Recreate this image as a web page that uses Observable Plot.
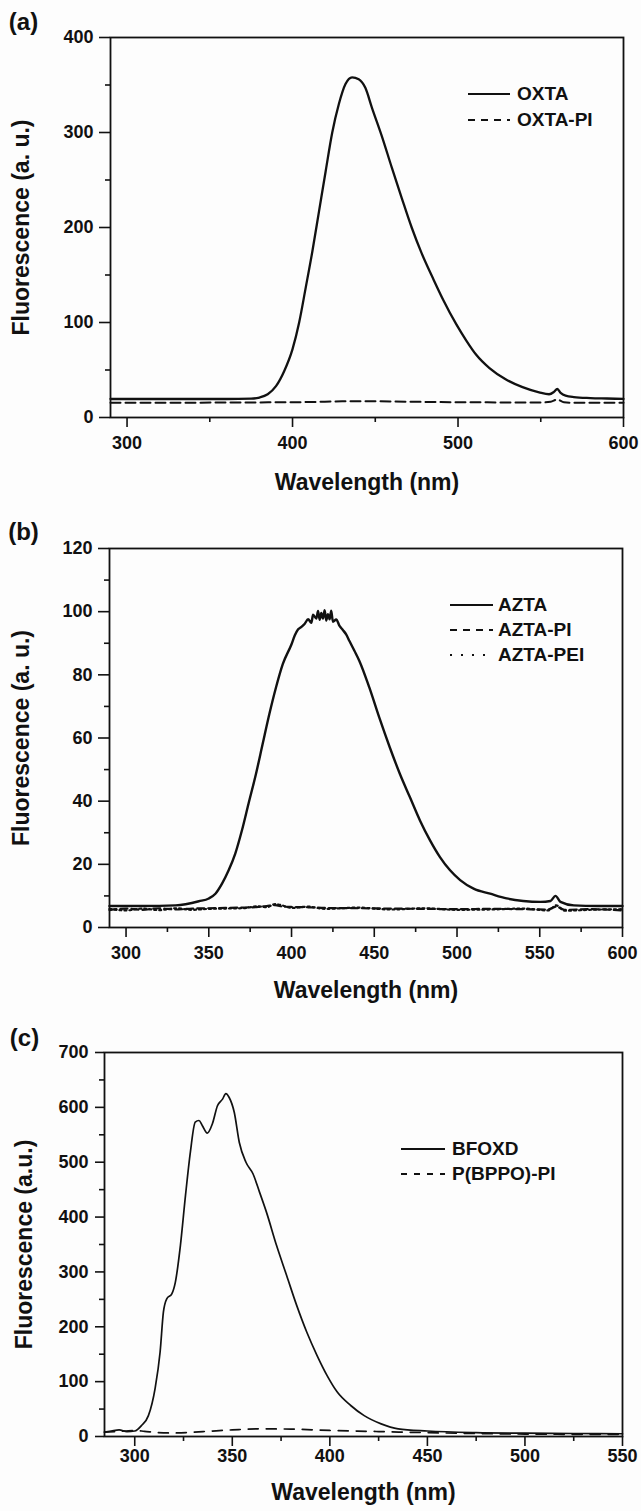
<!DOCTYPE html>
<html>
<head>
<meta charset="utf-8">
<script src="https://cdn.jsdelivr.net/npm/d3@7"></script>
<script src="https://cdn.jsdelivr.net/npm/@observablehq/plot@0.6"></script>
<style>
  html, body { margin: 0; padding: 0; background: #fdfdfd; }
  #root { position: relative; width: 641px; height: 1511px; overflow: hidden; background: #fdfdfd;
          font-family: "Liberation Sans", Arial, sans-serif; font-weight: bold; color: #111; }
  .panel { position: absolute; left: 0; }
  .leg { position: absolute; display: flex; align-items: center; height: 24px; font-size: 19px; white-space: nowrap; }
  .leg svg { display: block; }
</style>
</head>
<body>
<div id="root"></div>
<script>
// ---------- Panel (a) data ----------
const wlOXTA = [290,300,320,340,360,375,380,385,390,395,400,404,408,412,416,420,424,428,432,436,440,444,448,454,460,466,472,478,485,491,499,505,511,519,529,539,549,555,558,560,562,565,570,580,590,600];
const OXTA   = [19.5,19.5,19.5,19.5,19.5,19.8,21,24.5,33,49,72,100,137,175,217,259,300,330,351,358,356,347,326,296,263,231,200,173,146,124,98,81,66,52,40,32,26.5,24.5,27,30,26,23,21.5,20.5,20,19.5];
const wlOXTAPI = [290,330,370,410,430,445,470,510,550,556,560,564,570,600];
const OXTAPI   = [15.5,15.6,15.8,16.3,17,17.2,16.6,16,15.8,16.5,19,16,15.4,15.4];
const xMajorA = [300,400,500,600];
const xMinorA = [350,450,550];
const yMajorA = [0,100,200,300,400];
const yMinorA = [50,150,250,350];

// ---------- Panel (b) data ----------
const wlAZTA = [290,310,330,344,350,354,358,362,366,370,374,378.5,382.5,386.6,390.6,394.7,
  400,402,404,406,408,410,412,413,415,416,417,418,419,420,421,422,423,424,425,427,429,431,433,435,438,
  441,447,453,459.4,465.5,471.5,477.6,483.7,489.7,495.8,501.9,510,520,530,540,550.4,556.5,559.5,562.5,570.6,585,600];
const AZTA = [6.8,6.8,7.0,8.3,9.2,10.7,13.9,18.1,23.4,30.7,39.2,48.6,58,67.6,76,83.4,
  89.7,92.5,94.4,95.2,96.2,97.6,96.5,99,97.8,100.2,97.4,99.6,97.8,100.5,97.2,99.2,97.6,100.3,96.8,97.5,95.5,94.2,92.8,90.7,87.6,
  84.4,76,66.5,57,48.6,41.3,33.9,27.6,22.3,18.1,15,12.3,10.7,9.2,8.4,8.1,8.4,10,8.1,7,6.8,6.8];
const wlAZTAPI = [290,300,310,320,330,340,350,360,370,380,385,390,395,400,410,420,440,460,480,500,520,540,555,560,565,580,600];
const AZTAPI   = [5.5,6.0,5.6,6.1,5.7,6.0,6.1,6.2,6.3,6.5,6.8,7.1,6.6,6.5,6.4,6.2,6.1,6.0,5.9,5.8,5.9,5.8,5.7,6.6,5.6,5.8,5.4];
const AZTAPEI  = [5.9,5.4,6.0,5.5,6.1,5.6,5.9,6.0,6.1,6.7,6.4,7.4,6.9,6.2,6.6,5.9,6.3,5.7,6.1,5.6,5.7,6.0,5.4,7.0,5.3,5.6,5.8];
const xMajorB = [300,350,400,450,500,550,600];
const xMinorB = [325,375,425,475,525,575];
const yMajorB = [0,20,40,60,80,100,120];
const yMinorB = [10,30,50,70,90,110];

// ---------- Panel (c) data ----------
const wlBFOXD = [284.5,288,292,296,300,303.5,307,310.4,313,314.7,316.4,319,320.8,323.4,326,328.5,331,332.9,334.6,337.2,339.8,342.4,345,346.7,348.4,351,353.6,357,360.6,364,367.5,372.7,377.9,383,388.2,393.4,398.6,403.8,410.7,417.6,426.3,435,450,475,500,525,550];
const BFOXD   = [8,10,12,9,10,20,38,87,154,227,251,260,281,348,439,518,573,576,567,553,570,603,615,625,618,591,536,500,479,445,409,348,293,239,190,148,111,81,56.5,38,23,14,10,7,6,5.5,5];
const wlPBPPO = [284.5,290,295,300,305,312,320,335,350,365,380,400,425,450,475,500,525,550];
const PBPPO   = [8,9,10,11,9.5,7,6.5,9,12,14,13.5,11,9,7,5.5,4.5,4,4];
const xMajorC = [300,350,400,450,500,550];
const xMinorC = [325,375,425,475,525];
const yMajorC = [0,100,200,300,400,500,600,700];
const yMinorC = [50,150,250,350,450,550,650];

const INK = "#111";
const toRows = (xs, ys) => xs.map((x, i) => ({wl: x, v: ys[i]}));

function panel(cfg) {
  const m = cfg.m;
  return Plot.plot({
    width: 641, height: cfg.height,
    marginTop: m[0], marginRight: m[1], marginBottom: m[2], marginLeft: m[3],
    style: {fontFamily: "'Liberation Sans', Arial, sans-serif", fontWeight: "bold", fontSize: "18px", color: INK, background: "transparent", overflow: "visible"},
    x: {domain: cfg.xDomain, label: null, axis: null},
    y: {domain: cfg.yDomain, label: null, axis: null},
    marks: [
      Plot.axisX(cfg.xMinor, {tickSize: 5, text: null, strokeWidth: 1.6, label: null}),
      Plot.axisX(cfg.xMajor, {tickSize: 10, tickPadding: cfg.xPad, strokeWidth: 1.6, fontSize: 18, label: null}),
      Plot.axisY(cfg.yMinor, {tickSize: 5, text: null, strokeWidth: 1.6, label: null}),
      Plot.axisY(cfg.yMajor, {tickSize: cfg.yTick, tickPadding: cfg.yPad, strokeWidth: 1.6, fontSize: 18, label: null}),
      ...cfg.series.map(s => Plot.line(toRows(s.x, s.y), {x: "wl", y: "v", stroke: INK, strokeWidth: s.w, strokeDasharray: s.dash, curve: "monotone-x"})),
      Plot.frame({stroke: INK, strokeWidth: 1.8}),
      Plot.text([cfg.tag], {frameAnchor: "top-left", dx: cfg.tagDx, dy: cfg.tagDy, fontSize: 24, textAnchor: "middle", lineAnchor: "middle"}),
      Plot.text(["Wavelength (nm)"], {frameAnchor: "bottom", dy: cfg.xTitleDy, fontSize: 23, lineAnchor: "middle"}),
      Plot.text([cfg.yTitle], {frameAnchor: "left", dx: cfg.yTitleDx, rotate: -90, fontSize: 23, textAnchor: "middle", lineAnchor: "middle"})
    ]
  });
}

function legend(root, items, x0, x1, tx) {
  items.forEach((it) => {
    const row = document.createElement("div");
    row.className = "leg";
    row.style.left = x0 + "px";
    row.style.top = (it.y - 12) + "px";
    const w = x1 - x0;
    row.innerHTML = `<svg width="${w}" height="24"><line x1="0" x2="${w}" y1="12" y2="12" stroke="${INK}" stroke-width="2" ${it.dash ? `stroke-dasharray="${it.dash}"` : ""}/></svg><span style="margin-left:${tx - x1}px">${it.label}</span>`;
    root.appendChild(row);
  });
}

const root = document.getElementById("root");
function place(node, top) {
  const d = document.createElement("div");
  d.className = "panel";
  d.style.top = top + "px";
  d.appendChild(node);
  root.appendChild(d);
}

// (a)
place(panel({
  height: 500, m: [37, 18, 83, 110],
  xDomain: [290, 600], yDomain: [0, 400],
  xMajor: xMajorA, xMinor: xMinorA, yMajor: yMajorA, yMinor: yMinorA,
  xPad: 9, yTick: 11, yPad: 6,
  series: [
    {x: wlOXTA, y: OXTA, w: 2.3},
    {x: wlOXTAPI, y: OXTAPI, w: 2, dash: "10,5"}
  ],
  tag: "(a)", tagDx: -87, tagDy: -15,
  xTitleDy: 65, yTitle: "Fluorescence (a. u.)", yTitleDx: -89
}), 0);
legend(root, [
  {label: "OXTA", y: 94},
  {label: "OXTA-PI", y: 120, dash: "7,6"}
], 468, 510, 517);

// (b)
place(panel({
  height: 500, m: [48, 19, 73, 109],
  xDomain: [290, 600], yDomain: [0, 120],
  xMajor: xMajorB, xMinor: xMinorB, yMajor: yMajorB, yMinor: yMinorB,
  xPad: 9, yTick: 11, yPad: 6,
  series: [
    {x: wlAZTA, y: AZTA, w: 2.4},
    {x: wlAZTAPI, y: AZTAPI, w: 2.2, dash: "7,4"},
    {x: wlAZTAPI, y: AZTAPEI, w: 2.2, dash: "2,3"}
  ],
  tag: "(b)", tagDx: -86, tagDy: -16,
  xTitleDy: 63, yTitle: "Fluorescence (a. u.)", yTitleDx: -88
}), 500);
legend(root, [
  {label: "AZTA", y: 605},
  {label: "AZTA-PI", y: 630, dash: "7,6"},
  {label: "AZTA-PEI", y: 655, dash: "2,9"}
], 450, 493, 498);

// (c)
place(panel({
  height: 511, m: [52, 19, 75, 104],
  xDomain: [284.5, 550], yDomain: [0, 700],
  xMajor: xMajorC, xMinor: xMinorC, yMajor: yMajorC, yMinor: yMinorC,
  xPad: 3, yTick: 9, yPad: 7,
  series: [
    {x: wlBFOXD, y: BFOXD, w: 1.7},
    {x: wlPBPPO, y: PBPPO, w: 1.7, dash: "10,8"}
  ],
  tag: "(c)", tagDx: -80, tagDy: -14,
  xTitleDy: 56, yTitle: "Fluorescence (a.u.)", yTitleDx: -80
}), 1000);
legend(root, [
  {label: "BFOXD", y: 1149},
  {label: "P(BPPO)-PI", y: 1174, dash: "6,7"}
], 401, 445, 452);
</script>
</body>
</html>
